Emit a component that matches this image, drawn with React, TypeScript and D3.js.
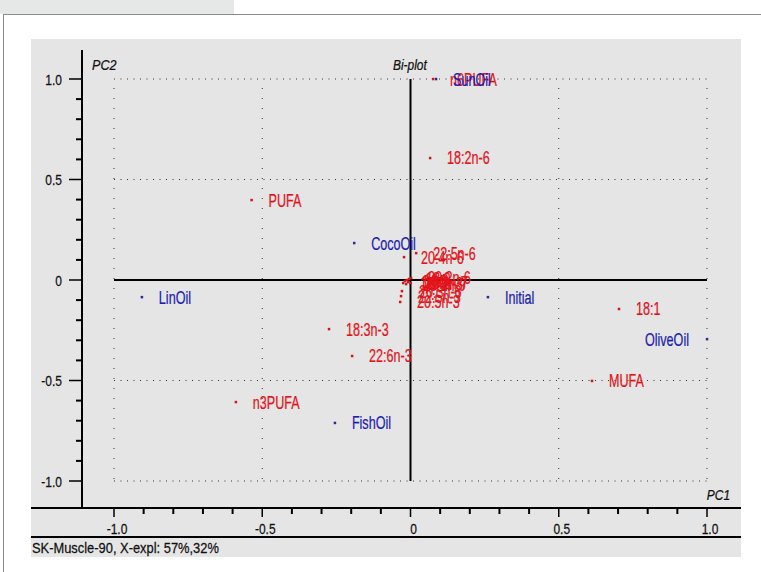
import React from "react";
import * as d3 from "d3";

// PCA bi-plot: scores (samples, blue) and loadings (fatty acids, red)
const sampleNames = ["SunOil", "CocoOil", "LinOil", "Initial", "OliveOil", "FishOil"];
const samplePC1 = [0.086, -0.19, -0.906, 0.261, 1.0, -0.255];
const samplePC2 = [1.0, 0.184, -0.085, -0.085, -0.294, -0.711];

const variableNames = [
  "n6PUFA", "18:2n-6", "PUFA", "22:5n-6", "20:4n-6", "18:3n-3", "22:6n-3", "n3PUFA",
  "18:1", "MUFA", "18:4n-3", "14:0", "16:0", "18:0", "20:2n-6", "16:1n-7", "20:1n-9",
  "SFA", "20:3n-6", "22:5n-3", "20:5n-3",
];
const variablePC1 = [
  0.076, 0.066, -0.536, 0.019, -0.022, -0.275, -0.197, -0.589,
  0.703, 0.612, -0.025, -0.019, -0.012, -0.005, 0.002, -0.008, -0.015,
  0.0, -0.029, -0.032, -0.035,
];
const variablePC2 = [
  1.0, 0.607, 0.398, 0.134, 0.114, -0.244, -0.378, -0.607,
  -0.144, -0.502, -0.015, -0.005, 0.0, 0.005, 0.01, -0.01, -0.02,
  -0.015, -0.055, -0.08, -0.109,
];

const majorTicks = [-1.0, -0.5, 0, 0.5, 1.0];
const majorLabels = ["-1.0", "-0.5", "0", "0.5", "1.0"];
const gridLines = [-1.0, -0.5, 0.5, 1.0];

const W = 761;
const H = 572;
const RED = "#e3131c";
const BLUE = "#1c1cb0";

const Txt = ({ x, y, sx = 0.7, size = 18, anchor = "start", italic = false, fill = "#111", children }: any) => (
  <text
    transform={`translate(${x},${y}) scale(${sx},1)`}
    fontFamily="'Liberation Sans', Arial, sans-serif"
    fontSize={size}
    fontStyle={italic ? "italic" : "normal"}
    textAnchor={anchor}
    fill={fill}
    stroke={fill}
    strokeWidth={0.25}
  >
    {children}
  </text>
);

export default function App() {
  const x = d3.scaleLinear().domain([-1, 1]).range([114, 707]);
  const y = d3.scaleLinear().domain([-1, 1]).range([481, 79]);
  const minor = d3.range(-10, 11).map((i) => i / 10);

  const axisX = 82;
  const axisY = 508;
  const panel = { x0: 31, x1: 741, y0: 39, y1: 557 };

  const point = (name: string, px: number, py: number, color: string, dot: string, key: string) => {
    const cx = x(px);
    const cy = y(py);
    const left = px > 0.9;
    return (
      <g key={key}>
        <rect x={cx - 1.2} y={cy - 1.2} width={2.5} height={2.5} fill={dot} />
        <Txt x={left ? cx - 18 : cx + 17} y={cy + 6.5} anchor={left ? "end" : "start"} fill={color}>
          {name}
        </Txt>
      </g>
    );
  };

  return (
    <div style={{ position: "absolute", left: 0, top: 0 }}>
      <svg width={W} height={H} style={{ display: "block" }}>
        <rect x={0} y={0} width={W} height={H} fill="#fff" />
        <rect x={0} y={0} width={234} height={14} fill="#e6e8e8" />
        <rect x={3.5} y={14.5} width={W + 10} height={H + 10} fill="#fff" stroke="#8a8a8a" strokeWidth={1} />

        {/* plot panel */}
        <rect x={panel.x0} y={panel.y0} width={panel.x1 - panel.x0} height={panel.y1 - panel.y0} fill="#e5e5e5" />

        {/* dotted grid */}
        {gridLines.map((v) => (
          <line key={`gh${v}`} x1={x(-1)} x2={x(1)} y1={y(v)} y2={y(v)} stroke="#333" strokeWidth={1} strokeDasharray="1,5.5" />
        ))}
        {gridLines.map((v) => (
          <line key={`gv${v}`} x1={x(v)} x2={x(v)} y1={y(1) + 9} y2={y(-1)} stroke="#333" strokeWidth={1} strokeDasharray="1,9" />
        ))}

        {/* zero lines */}
        <line x1={x(-1)} x2={x(1)} y1={y(0)} y2={y(0)} stroke="#000" strokeWidth={2} />
        <line x1={x(0)} x2={x(0)} y1={y(1)} y2={y(-1)} stroke="#000" strokeWidth={2} />

        {/* axes */}
        <line x1={axisX} x2={axisX} y1={50} y2={axisY} stroke="#000" strokeWidth={2} />
        <line x1={panel.x0} x2={panel.x1} y1={axisY} y2={axisY} stroke="#000" strokeWidth={2} />
        <line x1={panel.x0} x2={panel.x1} y1={537} y2={537} stroke="#000" strokeWidth={2} />

        {minor.map((v) => {
          const major = majorTicks.some((m) => Math.abs(m - v) < 1e-9);
          return (
            <g key={`t${v}`}>
              <line x1={axisX - (major ? 13 : 6)} x2={axisX} y1={y(v)} y2={y(v)} stroke="#000" strokeWidth={major ? 1.5 : 2} />
              <line x1={x(v)} x2={x(v)} y1={axisY} y2={axisY + (major ? 9 : 6)} stroke="#000" strokeWidth={major ? 1.5 : 2} />
            </g>
          );
        })}

        {majorTicks.map((v, i) => (
          <g key={`l${v}`}>
            <Txt x={62} y={y(v) + 5.5} anchor="end" size={15} sx={0.8}>{majorLabels[i]}</Txt>
            <Txt x={x(v) + 3} y={534} anchor="middle" size={15} sx={0.8}>{majorLabels[i]}</Txt>
          </g>
        ))}

        <Txt x={92} y={70} size={14} sx={0.9} italic>PC2</Txt>
        <Txt x={393} y={70} size={14} sx={0.85} italic>Bi-plot</Txt>
        <Txt x={730} y={500} size={14} sx={0.85} italic anchor="end">PC1</Txt>
        <Txt x={32} y={553} size={15} sx={0.86}>SK-Muscle-90, X-expl: 57%,32%</Txt>

        {variableNames.map((n, i) => point(n, variablePC1[i], variablePC2[i], RED, "#cc1a1a", `v${i}`))}
        {sampleNames.map((n, i) => point(n, samplePC1[i], samplePC2[i], BLUE, "#2a2a9a", `s${i}`))}
      </svg>
    </div>
  );
}
